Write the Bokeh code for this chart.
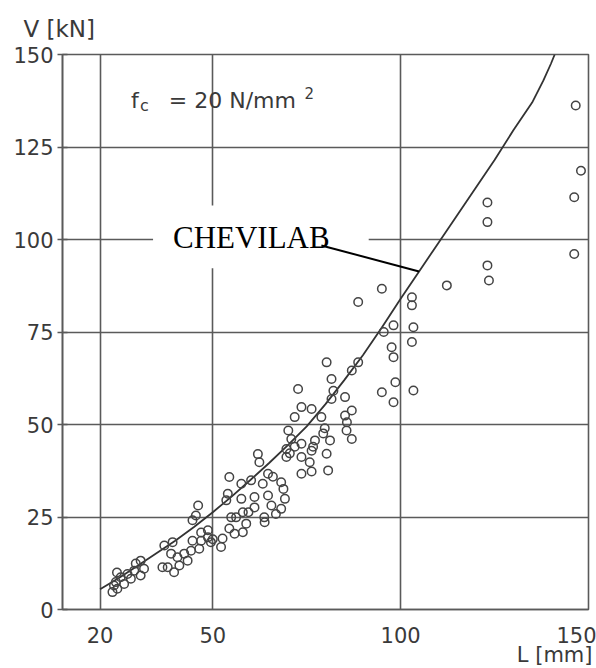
import numpy as np
from bokeh.plotting import figure
from bokeh.models import Label, FixedTicker, Title
from bokeh.embed import file_html
from bokeh.resources import INLINE

# ---------------- data ----------------
x_ticks = [20, 50, 100, 150]
x_tick_labels = ["20", "50", "100", "150"]
y_ticks = [0, 25, 50, 75, 100, 125, 150]
y_tick_labels = ["0", "25", "50", "75", "100", "125", "150"]

# CHEVILAB curve
curve_L = [20, 25, 30, 35, 40, 45, 50, 55, 60, 65, 70, 75, 80, 85, 90, 95, 100,
           105, 110, 115, 120, 125, 130, 135, 138, 140, 141]
curve_V = [5.5, 8.5, 11.8, 15.2, 18.6, 22.3, 26.3, 30.5, 35.0, 39.6, 44.4, 49.5,
           55.5, 62.0, 68.8, 76.2, 84.0, 91.5, 99.0, 106.5, 114.0, 121.5, 129.5,
           137.0, 143.0, 147.5, 150.0]

# test results (L [mm], V [kN])
test_L = [23.3, 24.6, 23.7, 26.4, 24.2, 28.2, 25.5, 30.8, 27.3, 24.5, 29.1, 31.7, 29.5, 30.8,
          36.6, 38.0, 39.7, 41.1, 43.3, 38.9, 40.6, 42.4, 37.1, 39.3, 44.2, 46.4, 46.9, 48.7,
          49.5, 44.6, 45.5, 46.1, 44.6, 52.2, 46.9, 48.7, 50.0,
          54.4, 54.0, 54.9, 57.6, 58.0, 55.8, 58.0, 60.2, 61.1, 62.0, 62.4, 63.3, 66.0, 68.2,
          53.6, 57.6, 61.1, 64.7, 68.8, 69.2, 65.6, 68.2, 59.5, 56.2, 63.7, 66.8, 58.9, 63.8,
          54.4, 52.6,
          70.1, 70.9, 69.6, 69.6, 73.6, 73.6, 76.3, 75.8, 77.2, 73.6, 76.3, 80.3, 80.7, 64.7,
          80.3, 72.7, 88.7, 87.0, 81.6, 82.1, 81.6, 85.2, 73.6, 76.3, 71.8, 87.0, 85.2, 78.9,
          79.8, 79.4, 85.6, 81.2, 76.7, 87.0, 71.8, 70.5, 95.0, 95.5, 85.7,
          123.1, 123.1, 146.2, 123.1, 123.5, 112.3, 95.0, 88.7, 103.0, 103.0, 98.1, 103.4,
          103.0, 97.6, 98.1, 98.6, 103.4, 98.1, 146.6, 148.0, 146.2]
test_V = [4.7, 5.6, 6.5, 6.9, 7.4, 8.3, 8.7, 9.2, 9.6, 10.0, 10.5, 11.0, 12.4, 13.2,
          11.4, 11.4, 10.1, 11.9, 13.2, 15.1, 14.1, 15.1, 17.3, 18.2, 15.9, 16.4, 18.6, 19.5,
          18.2, 24.1, 25.4, 28.1, 18.6, 16.9, 20.8, 21.4, 19.0,
          35.8, 31.3, 24.9, 34.0, 26.3, 20.5, 20.9, 34.9, 27.6, 42.0, 39.8, 34.0, 35.9, 34.4,
          29.5, 29.9, 30.4, 30.8, 32.6, 29.9, 28.1, 27.2, 26.3, 24.9, 24.9, 25.8, 23.2, 23.6,
          21.9, 19.2,
          48.4, 46.1, 43.4, 41.2, 44.8, 41.2, 42.9, 39.8, 45.7, 36.7, 37.3, 42.1, 37.6, 36.7,
          66.8, 59.6, 66.8, 64.6, 62.3, 59.1, 56.9, 57.4, 54.7, 54.2, 52.0, 53.8, 52.4, 52.0,
          49.0, 47.6, 48.4, 45.7, 44.0, 46.1, 44.0, 42.2, 58.7, 75.0, 50.6,
          110.0, 104.7, 96.1, 93.0, 88.9, 87.6, 86.7, 83.1, 84.4, 82.2, 76.8, 76.3,
          72.3, 70.9, 68.2, 61.4, 59.2, 56.0, 136.2, 118.6, 111.4]

# ---------------- styling ----------------
INK = "#3a3a3a"
GRID = "#5a5a5a"
FONT = "DejaVu Sans"

p = figure(width=596, height=668, x_range=(10, 150), y_range=(0, 150),
           output_backend="svg", toolbar_location=None,
           min_border_left=62, min_border_right=8, min_border_top=54, min_border_bottom=59,
           background_fill_color="white", border_fill_color="white")

p.outline_line_color = GRID
p.outline_line_width = 1.6

# the last x label is drawn a little inside the page edge (as in the original)
last_label_shift = 3.1
x_label_pos = x_ticks[:-1] + [x_ticks[-1] - last_label_shift]
p.xaxis.ticker = FixedTicker(ticks=x_label_pos)
p.yaxis.ticker = FixedTicker(ticks=y_ticks)
p.xaxis.major_label_overrides = {pos: lab for pos, lab in zip(x_label_pos, x_tick_labels)}
p.yaxis.major_label_overrides = {t: lab for t, lab in zip(y_ticks, y_tick_labels)}

for ax in (p.xaxis[0], p.yaxis[0]):
    ax.axis_line_color = GRID
    ax.axis_line_width = 1.6
    ax.major_tick_line_color = GRID
    ax.major_tick_line_width = 1.6
    ax.minor_tick_line_color = None
    ax.major_label_text_font = FONT
    ax.major_label_text_font_size = "21px"
    ax.major_label_text_color = INK

p.xaxis.major_tick_out = 0
p.xaxis.major_tick_in = 0
p.xaxis.major_label_standoff = 17
p.yaxis.major_tick_out = 5
p.yaxis.major_tick_in = 5
p.yaxis.major_label_standoff = 4

p.xgrid.ticker = FixedTicker(ticks=x_ticks[:-1])
p.ygrid.ticker = FixedTicker(ticks=y_ticks[1:-1])
for g in (p.xgrid[0], p.ygrid[0]):
    g.grid_line_color = GRID
    g.grid_line_width = 1.6
    g.grid_line_alpha = 1.0

# axis titles as plot titles (they live outside the frame)
p.add_layout(Title(text="V [kN]", align="left", offset=-39, standoff=25,
                   text_font=FONT, text_font_size="23px", text_font_style="normal",
                   text_color=INK), "above")
p.add_layout(Title(text="L [mm]", align="right", offset=-4, standoff=-10,
                   text_font=FONT, text_font_size="21px", text_font_style="normal",
                   text_color=INK), "below")

# white box behind the CHEVILAB label (hides grid lines)
p.quad(left=[34.1], right=[91.5], bottom=[92.2], top=[109.2],
       fill_color="white", line_color=None)

# curve and test points
p.line(curve_L, curve_V, line_color="#333333", line_width=1.8)
p.scatter(test_L, test_V, marker="circle", size=8.5, fill_color=None,
          line_color="#444444", line_width=1.5)

# leader line from label to curve
lead_x0, lead_y0, lead_x1 = 78.9, 98.4, 104.9
lead_y1 = float(np.interp(lead_x1, curve_L, curve_V))
p.segment(x0=[lead_x0], y0=[lead_y0], x1=[lead_x1], y1=[lead_y1],
          line_color="black", line_width=2)

p.add_layout(Label(x=39.4, y=100.5, text="CHEVILAB", text_font="Liberation Serif",
                   text_font_size="31px", text_color="black",
                   text_align="left", text_baseline="alphabetic"))

# f_c = 20 N/mm2
p.add_layout(Label(x=28.2, y=137.6, text="f", text_font=FONT, text_font_size="22px",
                   text_color=INK, text_baseline="alphabetic"))
p.add_layout(Label(x=30.6, y=136.3, text="c", text_font=FONT, text_font_size="16px",
                   text_color=INK, text_baseline="alphabetic"))
p.add_layout(Label(x=38.3, y=137.6, text="= 20 N/mm", text_font=FONT, text_font_size="22px",
                   text_color=INK, text_baseline="alphabetic"))
p.add_layout(Label(x=74.4, y=139.7, text="2", text_font=FONT, text_font_size="15px",
                   text_color=INK, text_baseline="alphabetic"))

open("out.html", "w").write(file_html(p, INLINE))
